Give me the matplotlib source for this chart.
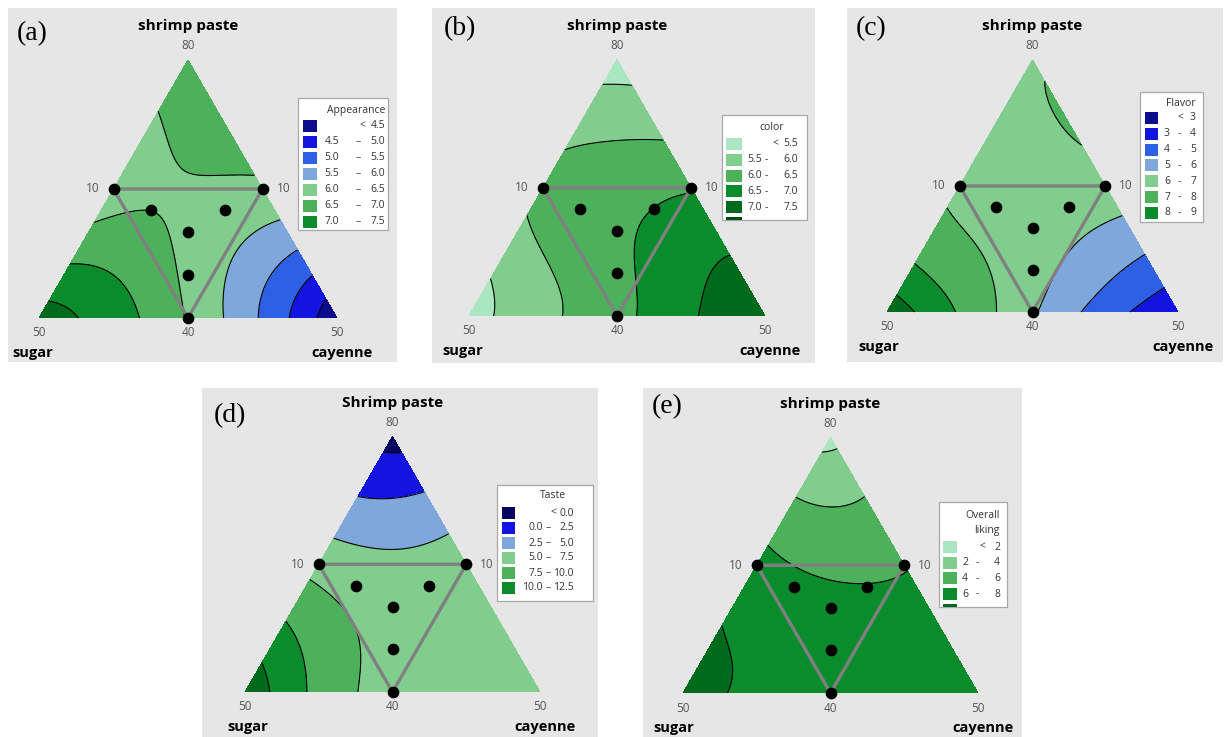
import numpy as np
import matplotlib.pyplot as plt
import matplotlib.tri as mtri
from matplotlib.patches import Rectangle

plt.rcParams['font.family'] = ['Open Sans', 'DejaVu Sans']

H = np.sqrt(3) / 2
FIG_W, FIG_H = 1227, 737

NAVY = '#0c0c8c'
BLUE = '#1414e0'
MBLUE = '#2e60e6'
LBLUE = '#7ea8dc'
MINT = '#aae6c2'
LGREEN = '#80cd8e'
MGREEN = '#4db15c'
GREEN = '#0a8b2c'
DGREEN = '#006a1c'

# design points (shrimp paste, sugar, cayenne) as pseudo-component fractions
design_shrimp = [1/2, 1/2, 0, 1/3, 5/12, 5/12, 1/6]
design_sugar = [1/2, 0, 1/2, 1/3, 5/12, 1/6, 5/12]
design_cayenne = [0, 1/2, 1/2, 1/3, 1/6, 5/12, 5/12]

# responses on a 6th degree simplex lattice
# first row = no shrimp paste (base), each row goes from sugar side to cayenne side
appearance_z = [
    [7.70, 7.43, 7.01, 6.45, 5.85, 5.00, 4.10],
    [7.05, 7.00, 6.62, 6.10, 5.60, 5.05],
    [6.72, 6.70, 6.40, 6.15, 5.75],
    [6.25, 6.35, 6.45, 6.38],
    [6.25, 6.60, 6.70],
    [6.62, 6.70],
    [6.70],
]
color_z = [
    [5.20, 5.72, 6.02, 6.35, 6.75, 7.12, 7.30],
    [5.55, 5.97, 6.20, 6.60, 6.85, 7.10],
    [5.90, 6.15, 6.35, 6.65, 6.85],
    [6.10, 6.30, 6.40, 6.45],
    [5.95, 5.98, 6.02],
    [5.68, 5.68],
    [5.30],
]
flavor_z = [
    [9.70, 8.45, 7.30, 6.15, 5.05, 3.95, 3.30],
    [8.10, 7.60, 6.60, 5.97, 5.30, 4.50],
    [7.30, 6.80, 6.50, 6.20, 5.75],
    [6.80, 6.60, 6.50, 6.50],
    [6.80, 6.80, 7.05],
    [6.85, 7.05],
    [6.90],
]
taste_z = [
    [14.3, 10.9, 7.95, 6.60, 6.40, 6.40, 6.40],
    [11.8, 9.20, 7.20, 6.40, 6.30, 6.30],
    [8.90, 7.40, 6.40, 6.20, 6.20],
    [6.80, 6.00, 6.00, 6.20],
    [3.80, 3.20, 4.40],
    [1.70, 1.70],
    [-0.80],
]
overall_z = [
    [8.60, 7.95, 7.50, 7.30, 7.20, 7.20, 7.20],
    [8.20, 7.75, 7.30, 7.10, 7.00, 7.00],
    [7.93, 7.00, 6.70, 6.50, 6.60],
    [6.30, 5.70, 5.55, 5.97],
    [5.48, 4.56, 4.70],
    [3.03, 3.46],
    [1.45],
]

appearance_levels = [4.5, 5.0, 5.5, 6.0, 6.5, 7.0, 7.5]
color_levels = [5.5, 6.0, 6.5, 7.0, 7.5]
flavor_levels = [3, 4, 5, 6, 7, 8, 9]
taste_levels = [0.0, 2.5, 5.0, 7.5, 10.0, 12.5]
overall_levels = [2, 4, 6, 8]

panels = [
    dict(tag='(a)', tag_at=(17, 34), title='shrimp paste', z=appearance_z,
         levels=appearance_levels, fmt='{:.1f}',
         colors=[NAVY, BLUE, MBLUE, LBLUE, LGREEN, MGREEN, GREEN, DGREEN],
         rect=(8, 8, 397, 362), base=(39, 318, 298), sugar_dx=-27,
         legend=dict(box=(298, 98, 388, 230), title=[('Appearance', 385, 111, 'right')],
                     y0=126, dy=16, rows=7, sq=(303, 317), lo=339, dash=358, lt=362,
                     hi=385, sep='–', partial=False)),
    dict(tag='(b)', tag_at=(444, 29), title='shrimp paste', z=color_z,
         levels=color_levels, fmt='{:.1f}',
         colors=[MINT, LGREEN, MGREEN, GREEN, DGREEN, '#004d12'],
         rect=(432, 8, 815, 363), base=(469, 316, 296), sugar_dx=-27,
         legend=dict(box=(722, 115, 807, 220), title=[('color', 772, 127, 'center')],
                     y0=144, dy=15.8, rows=5, sq=(726, 742), lo=762, dash=766, lt=775,
                     hi=798, sep='-', partial=True)),
    dict(tag='(c)', tag_at=(856, 29), title='shrimp paste', z=flavor_z,
         levels=flavor_levels, fmt='{:d}',
         colors=[NAVY, BLUE, MBLUE, LBLUE, LGREEN, MGREEN, GREEN, DGREEN],
         rect=(847, 8, 1223, 362), base=(887, 312, 291), sugar_dx=-29,
         legend=dict(box=(1140, 92, 1203, 222), title=[('Flavor', 1196, 104, 'right')],
                     y0=118, dy=15.8, rows=7, sq=(1145, 1158), lo=1170, dash=1179, lt=1180,
                     hi=1196, sep='-', partial=False)),
    dict(tag='(d)', tag_at=(214, 416), title='Shrimp paste', z=taste_z,
         levels=taste_levels, fmt='{:.1f}',
         colors=['#06065e', BLUE, LBLUE, LGREEN, MGREEN, GREEN, DGREEN],
         rect=(202, 388, 598, 737), base=(245, 692, 295), sugar_dx=-18,
         legend=dict(box=(497, 485, 593, 601), title=[('Taste', 553, 496, 'center')],
                     y0=513, dy=15, rows=6, sq=(502, 515), lo=543, dash=548, lt=553,
                     hi=574, sep='–', partial=False)),
    dict(tag='(e)', tag_at=(652, 407), title='shrimp paste', z=overall_z,
         levels=overall_levels, fmt='{:d}',
         colors=[MINT, LGREEN, MGREEN, GREEN, DGREEN],
         rect=(643, 388, 1022, 737), base=(683, 693, 295), sugar_dx=-30,
         legend=dict(box=(939, 502, 1007, 607),
                     title=[('Overall', 1000, 515, 'right'), ('liking', 1000, 531, 'right')],
                     y0=547, dy=15.7, rows=4, sq=(943, 957), lo=968, dash=977, lt=982,
                     hi=1000, sep='-', partial=True)),
]


def lattice(n):
    shrimp, cay, tris = [], [], []
    idx = {}
    for i in range(n + 1):
        for j in range(n + 1 - i):
            idx[(i, j)] = len(shrimp)
            shrimp.append(i / n)
            cay.append(j / n)
    for i in range(n):
        for j in range(n - i):
            tris.append([idx[(i, j)], idx[(i, j + 1)], idx[(i + 1, j)]])
            if i + j < n - 1:
                tris.append([idx[(i, j + 1)], idx[(i + 1, j + 1)], idx[(i + 1, j)]])
    return np.array(shrimp), np.array(cay), np.array(tris)


def quartic_terms(a, c):
    b = 1 - a - c
    return np.column_stack([a**i * b**j * c**(4 - i - j)
                            for i in range(5) for j in range(5 - i)])


def draw_panel(fig, p):
    x0, y0, x1, y1 = p['rect']
    bx, by, w = p['base']
    ax = fig.add_axes([x0 / FIG_W, 1 - y1 / FIG_H, (x1 - x0) / FIG_W, (y1 - y0) / FIG_H])
    ax.set_xlim((x0 - bx) / w, (x1 - bx) / w)
    ax.set_ylim((by - y1) / w, (by - y0) / w)
    ax.set_facecolor('#e6e6e6')
    ax.set_xticks([])
    ax.set_yticks([])
    for s in ax.spines.values():
        s.set_visible(False)

    def P(X, Y):
        return (X - bx) / w, (by - Y) / w

    # mixture response surface (Scheffe quartic fitted to the read values)
    a, c, _ = lattice(6)
    z = np.concatenate(p['z'])
    coef, *_ = np.linalg.lstsq(quartic_terms(a, c), z, rcond=None)
    fa, fc, ftris = lattice(90)
    fz = quartic_terms(fa, fc) @ coef
    tri = mtri.Triangulation(fc + fa / 2, H * fa, ftris)
    levels = [-1e3] + list(p['levels']) + [1e3]
    ax.tricontourf(tri, fz, levels=levels, colors=p['colors'])
    ax.tricontour(tri, fz, levels=p['levels'], colors='black', linewidths=0.8)

    # constrained region + design points
    ax.plot([0.25, 0.75, 0.5, 0.25], [H / 2, H / 2, 0, H / 2], color='#808080', lw=2.4,
            solid_joinstyle='miter')
    ds = np.array(design_shrimp)
    dc = np.array(design_cayenne)
    ax.scatter(dc + ds / 2, H * ds, s=55, color='black', zorder=4)

    # axis labels
    px = 1 / w
    ax.text(0.5, H + 34 * px, p['title'], ha='center', va='center', fontsize=11,
            fontweight='bold')
    tick = dict(fontsize=8.5, color='#555555', va='center')
    ax.text(0.5, H + 14 * px, '80', ha='center', **tick)
    ax.text(0.25 - 14 * px, H / 2, '10', ha='right', **tick)
    ax.text(0.75 + 14 * px, H / 2, '10', ha='left', **tick)
    ax.text(0, -15 * px, '50', ha='center', **tick)
    ax.text(0.5, -15 * px, '40', ha='center', **tick)
    ax.text(1, -15 * px, '50', ha='center', **tick)
    ax.text(p['sugar_dx'] * px, -35 * px, 'sugar', ha='left', va='center', fontsize=10.5,
            fontweight='bold')
    ax.text(1 + 36 * px, -35 * px, 'cayenne', ha='right', va='center', fontsize=10.5,
            fontweight='bold')
    tx, ty = P(*p['tag_at'])
    ax.text(tx, ty, p['tag'], ha='left', va='center', fontsize=20,
            family=['Liberation Serif', 'DejaVu Serif'])

    # legend
    L = p['legend']
    b0, t0, b1, t1 = L['box']
    box = Rectangle(P(b0, t1), (b1 - b0) * px, (t1 - t0) * px, facecolor='white',
                    edgecolor='#a8a8a8', lw=0.9, zorder=5)
    ax.add_patch(box)
    for txt, X, Y, ha in L['title']:
        ax.text(*P(X, Y), txt, ha=ha, va='center', fontsize=7.5, color='#333333', zorder=6)
    lv = p['levels']
    f = p['fmt']
    nrows = L['rows'] + (1 if L['partial'] else 0)
    for k in range(nrows):
        Y = L['y0'] + k * L['dy']
        sq = Rectangle(P(L['sq'][0], Y + 6), (L['sq'][1] - L['sq'][0]) * px, 12 * px,
                       facecolor=p['colors'][k], edgecolor='none', zorder=6)
        ax.add_patch(sq)
        sq.set_clip_path(box)
        if k >= L['rows']:
            continue
        style = dict(va='center', fontsize=7.5, color='#333333', zorder=6)
        if k == 0:
            ax.text(*P(L['lt'], Y), '<', ha='center', **style)
            ax.text(*P(L['hi'], Y), f.format(lv[0]), ha='right', **style)
        else:
            ax.text(*P(L['lo'], Y), f.format(lv[k - 1]), ha='right', **style)
            ax.text(*P(L['dash'], Y), L['sep'], ha='center', **style)
            ax.text(*P(L['hi'], Y), f.format(lv[k]), ha='right', **style)


fig = plt.figure(figsize=(FIG_W / 100, FIG_H / 100), dpi=100)
for p in panels:
    draw_panel(fig, p)
fig.savefig('out.png', dpi=100)
